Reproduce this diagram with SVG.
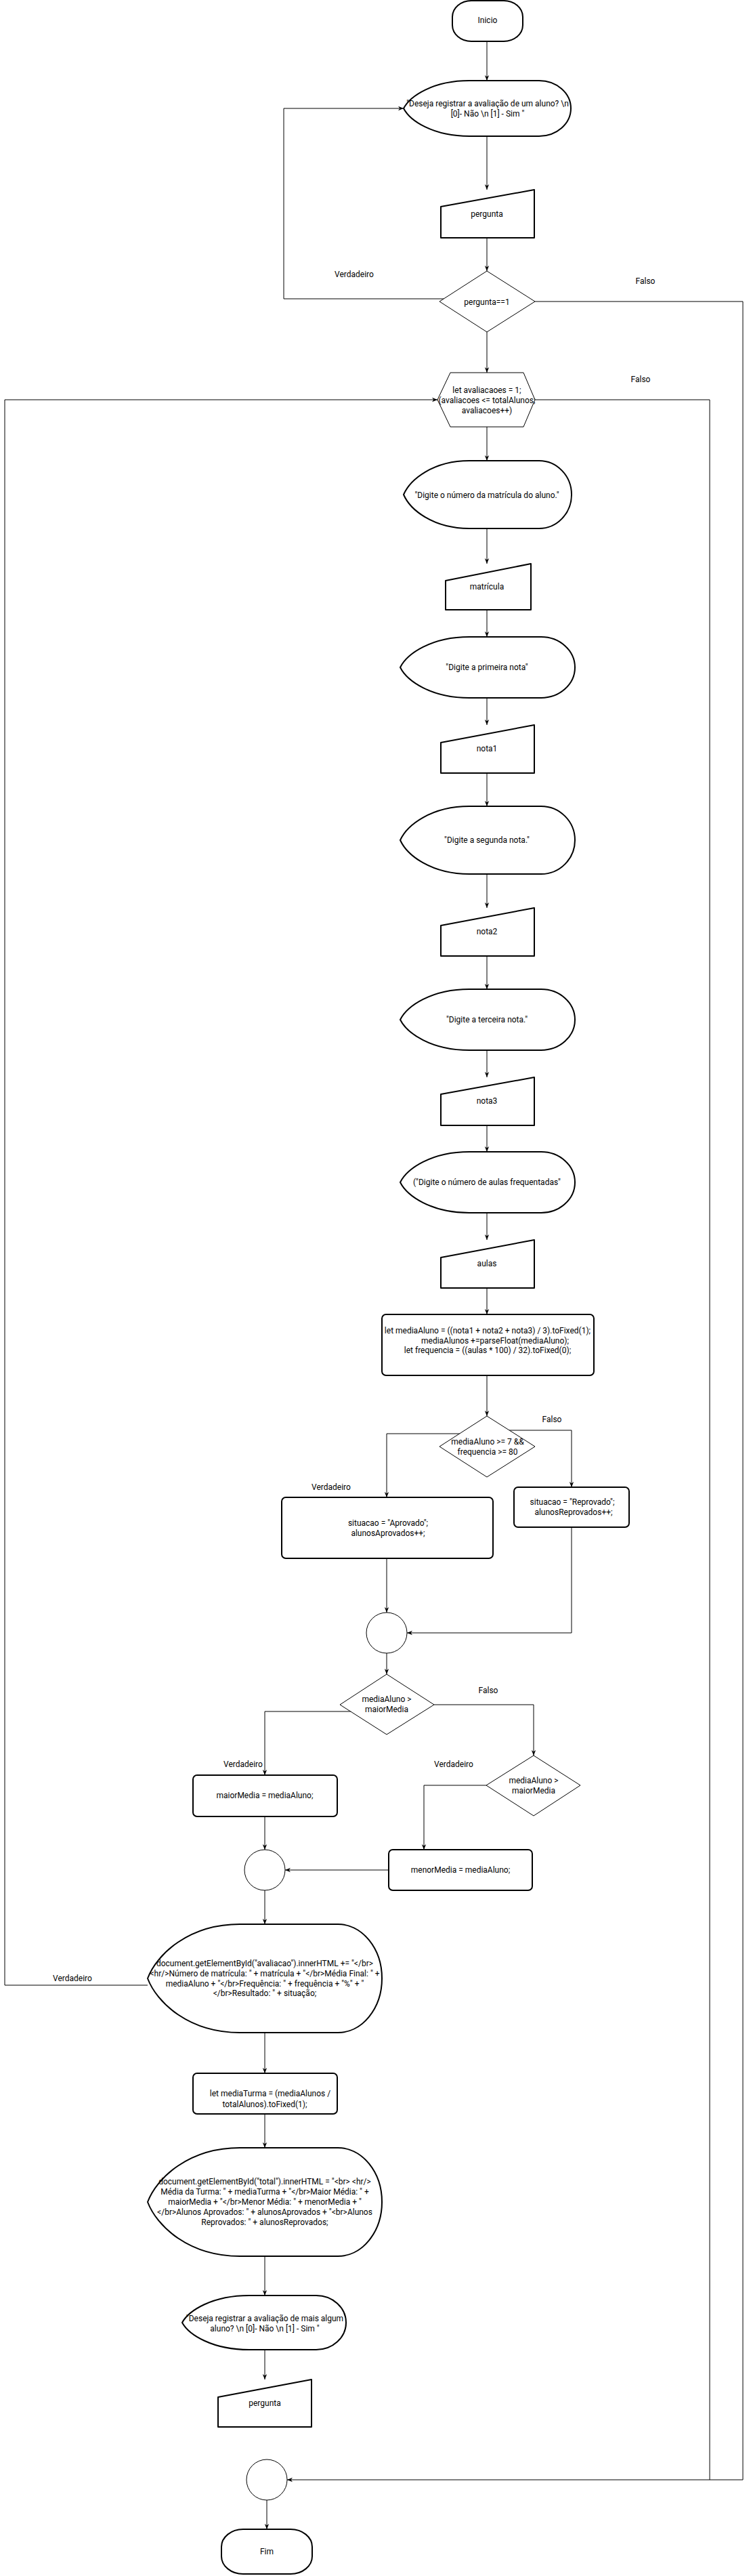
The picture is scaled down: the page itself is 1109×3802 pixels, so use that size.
<svg xmlns="http://www.w3.org/2000/svg" width="1109" height="3802" viewBox="0 0 1109 3802">
<style>
text{font-family:Roboto,"Liberation Sans",Arial,sans-serif;font-size:12px;fill:#000;text-anchor:middle}
.s{fill:#fff;stroke:#000;stroke-width:2;stroke-linejoin:round}
.t{fill:#fff;stroke:#000;stroke-width:1}
.c{fill:none;stroke:#000;stroke-width:1}
.a{marker-end:url(#arr)}
</style>
<defs>
<marker id="arr" viewBox="0 0 10 10" refX="10" refY="5" markerWidth="8" markerHeight="8" markerUnits="userSpaceOnUse" orient="auto"><path d="M0,1 L10,5 L0,9 L3,5 z" fill="#000"/></marker>
</defs>
<rect width="1109" height="3802" fill="#fff"/>
<g id="connectors">
<path class="c a" d="M719,61 V119"/>
<path class="c a" d="M719,201 V280"/>
<path class="c a" d="M719,351 V400"/>
<path class="c a" d="M656,441 H419 V160 H596"/>
<path class="c a" d="M790,445 H1097 V3660 H424"/>
<path class="c a" d="M719,490 V550"/>
<path class="c" d="M790,590 H1048 V3660"/>
<path class="c a" d="M719,630 V680"/>
<path class="c a" d="M719,780 V832"/>
<path class="c a" d="M719,900 V940"/>
<path class="c a" d="M719,1030 V1070"/>
<path class="c a" d="M719,1141 V1190"/>
<path class="c a" d="M719,1290 V1340"/>
<path class="c a" d="M719,1411 V1460"/>
<path class="c a" d="M719,1550 V1590"/>
<path class="c a" d="M719,1661 V1700"/>
<path class="c a" d="M719,1790 V1830"/>
<path class="c a" d="M719,1901 V1940"/>
<path class="c a" d="M719,2030 V2090"/>
<path class="c a" d="M752,2111 H844 V2195"/>
<path class="c a" d="M679,2116 H571 V2210"/>
<path class="c a" d="M571,2300 V2380"/>
<path class="c a" d="M844,2254 V2410 H601"/>
<path class="c a" d="M571,2440 V2471"/>
<path class="c a" d="M641,2516 H788 V2591"/>
<path class="c a" d="M518,2526 H391 V2620"/>
<path class="c a" d="M391,2681 V2730"/>
<path class="c a" d="M718,2635 H626 V2730"/>
<path class="c a" d="M574,2760 H421"/>
<path class="c a" d="M391,2790 V2840"/>
<path class="c a" d="M218,2930 H7 V590 H646"/>
<path class="c a" d="M391,3000 V3060"/>
<path class="c a" d="M391,3120 V3170"/>
<path class="c a" d="M391,3330 V3388"/>
<path class="c a" d="M391,3468 V3512"/>
<path class="c a" d="M394,3690 V3733"/>
<text x="523" y="409">Verdadeiro</text>
<text x="953" y="419">Falso</text>
<text x="946" y="564">Falso</text>
<text x="815" y="2099">Falso</text>
<text x="489" y="2199">Verdadeiro</text>
<text x="721" y="2499">Falso</text>
<text x="359" y="2608">Verdadeiro</text>
<text x="670" y="2608">Verdadeiro</text>
<text x="107" y="2924">Verdadeiro</text>
</g>
<g id="inicio"><rect class="s" x="668" y="1" width="104" height="60" rx="28" ry="24"/><text x="720" y="34">Inicio</text></g>
<g id="msg1"><path class="s" d="M693,119 L796,119 A47,41 0 0 1 843,160 A47,41 0 0 1 796,201 L693,201 C639.6,201 605.7,178.5 596,160 C605.7,141.5 639.6,119 693,119 Z"/><text x="720" y="157">"Deseja registrar a avaliação de um aluno? \n</text><text x="720" y="172">[0]- Não \n [1] - Sim "</text></g>
<g id="in-pergunta"><polygon class="s" points="651,305 789,280 789,351 651,351"/><text x="719" y="320">pergunta</text></g>
<g id="dec-pergunta"><polygon class="t" points="719,400 790,445 719,490 649,445"/><text x="719" y="450">pergunta==1</text></g>
<g id="loop"><polygon class="t" points="665,550 773,550 790,590 773,630 665,630 646,590"/><text x="719" y="580">let avaliacaoes = 1;</text><text x="719" y="595">(avaliacoes &lt;= totalAlunos;</text><text x="719" y="610">avaliacoes++)</text></g>
<g id="msg-matricula"><path class="s" d="M693,680 L796,680 A48,50 0 0 1 844,730 A48,50 0 0 1 796,780 L693,780 C639.6,780 605.7,752.5 596,730 C605.7,707.5 639.6,680 693,680 Z"/><text x="719" y="735">"Digite o número da matrícula do aluno."</text></g>
<g id="in-matricula"><polygon class="s" points="658,857 784,832 784,900 658,900"/><text x="719" y="870">matrícula</text></g>
<g id="msg-nota1"><path class="s" d="M693,940 L799,940 A50,45 0 0 1 849,985 A50,45 0 0 1 799,1030 L693,1030 C636.9,1030 601.2,1005.25 591,985 C601.2,964.75 636.9,940 693,940 Z"/><text x="719" y="989">"Digite a primeira nota"</text></g>
<g id="in-nota1"><polygon class="s" points="651,1096 789,1070 789,1141 651,1141"/><text x="719" y="1109">nota1</text></g>
<g id="msg-nota2"><path class="s" d="M693,1190 L799,1190 A50,50 0 0 1 849,1240 A50,50 0 0 1 799,1290 L693,1290 C636.9,1290 601.2,1262.5 591,1240 C601.2,1217.5 636.9,1190 693,1190 Z"/><text x="719" y="1244">"Digite a segunda nota."</text></g>
<g id="in-nota2"><polygon class="s" points="651,1366 789,1340 789,1411 651,1411"/><text x="719" y="1379">nota2</text></g>
<g id="msg-nota3"><path class="s" d="M693,1460 L799,1460 A50,45 0 0 1 849,1505 A50,45 0 0 1 799,1550 L693,1550 C636.9,1550 601.2,1525.25 591,1505 C601.2,1484.75 636.9,1460 693,1460 Z"/><text x="719" y="1509">"Digite a terceira nota."</text></g>
<g id="in-nota3"><polygon class="s" points="651,1615 789,1590 789,1661 651,1661"/><text x="719" y="1629">nota3</text></g>
<g id="msg-aulas"><path class="s" d="M693,1700 L799,1700 A50,45 0 0 1 849,1745 A50,45 0 0 1 799,1790 L693,1790 C636.9,1790 601.2,1765.25 591,1745 C601.2,1724.75 636.9,1700 693,1700 Z"/><text x="719" y="1749">("Digite o número de aulas frequentadas"</text></g>
<g id="in-aulas"><polygon class="s" points="651,1856 789,1830 789,1901 651,1901"/><text x="719" y="1869">aulas</text></g>
<g id="calc"><rect class="s" x="564" y="1940" width="313" height="90" rx="6"/><text x="720" y="1968">let mediaAluno = ((nota1 + nota2 + nota3) / 3).toFixed(1);</text><text x="731" y="1983">mediaAlunos +=parseFloat(mediaAluno);</text><text x="720" y="1997">let frequencia = ((aulas * 100) / 32).toFixed(0);</text></g>
<g id="dec-aprov"><polygon class="t" points="719,2090 790,2135 719,2180 649,2135"/><text x="720" y="2132">mediaAluno &gt;= 7 &amp;&amp;</text><text x="720" y="2147">frequencia &gt;= 80</text></g>
<g id="aprovado"><rect class="s" x="416" y="2210" width="312" height="90" rx="6"/><text x="573" y="2252">situacao = "Aprovado";</text><text x="573" y="2267">alunosAprovados++;</text></g>
<g id="reprovado"><rect class="s" x="759" y="2195" width="170" height="59" rx="6"/><text x="845" y="2221">situacao = "Reprovado";</text><text x="847" y="2236">alunosReprovados++;</text></g>
<g id="join1"><circle class="t" cx="571" cy="2410" r="30"/></g>
<g id="dec-maior"><polygon class="t" points="571,2471 641,2516 571,2560 502,2516"/><text x="571" y="2512">mediaAluno &gt;</text><text x="571" y="2527">maiorMedia</text></g>
<g id="maior"><rect class="s" x="285" y="2620" width="213" height="61" rx="6"/><text x="391" y="2654">maiorMedia = mediaAluno;</text></g>
<g id="dec-menor"><polygon class="t" points="788,2591 857,2635 788,2680 718,2635"/><text x="788" y="2632">mediaAluno &gt;</text><text x="788" y="2647">maiorMedia</text></g>
<g id="menor"><rect class="s" x="574" y="2730" width="212" height="60" rx="6"/><text x="680" y="2764">menorMedia = mediaAluno;</text></g>
<g id="join2"><circle class="t" cx="391" cy="2760" r="30"/></g>
<g id="out-avaliacao"><path class="s" d="M354,2840 L499,2840 A65,80 0 0 1 564,2920 A65,80 0 0 1 499,3000 L354,3000 C279.2,3000 231.6,2956 218,2920 C231.6,2884 279.2,2840 354,2840 Z"/><text x="391" y="2902">document.getElementById("avaliacao").innerHTML += "&lt;/br&gt;</text><text x="391" y="2917">&lt;hr/&gt;Número de matrícula: " + matrícula + "&lt;/br&gt;Média Final: " +</text><text x="391" y="2932">mediaAluno + "&lt;/br&gt;Frequência: " + frequência + "%" + "</text><text x="391" y="2946">&lt;/br&gt;Resultado: " + situação;</text></g>
<g id="media-turma"><rect class="s" x="285" y="3060" width="213" height="60" rx="6"/><text x="399" y="3094">let mediaTurma = (mediaAlunos /</text><text x="391" y="3110">totalAlunos).toFixed(1);</text></g>
<g id="out-total"><path class="s" d="M354,3170 L499,3170 A65,80 0 0 1 564,3250 A65,80 0 0 1 499,3330 L354,3330 C279.2,3330 231.6,3286 218,3250 C231.6,3214 279.2,3170 354,3170 Z"/><text x="391" y="3224">document.getElementById("total").innerHTML = "&lt;br&gt; &lt;hr/&gt;</text><text x="391" y="3239">Média da Turma: " + mediaTurma + "&lt;/br&gt;Maior Média: " +</text><text x="391" y="3254">maiorMedia + "&lt;/br&gt;Menor Média: " + menorMedia + "</text><text x="391" y="3269">&lt;/br&gt;Alunos Aprovados: " + alunosAprovados + "&lt;br&gt;Alunos</text><text x="391" y="3284">Reprovados: " + alunosReprovados;</text></g>
<g id="msg2"><path class="s" d="M368,3388 L467,3388 A44,40 0 0 1 511,3428 A44,40 0 0 1 467,3468 L368,3468 C313.5,3468 278.9,3446 269,3428 C278.9,3410 313.5,3388 368,3388 Z"/><text x="391" y="3426">"Deseja registrar a avaliação de mais algum</text><text x="391" y="3441">aluno? \n [0]- Não \n [1] - Sim "</text></g>
<g id="in-pergunta2"><polygon class="s" points="322,3538 460,3512 460,3582 322,3582"/><text x="391" y="3551">pergunta</text></g>
<g id="join3"><circle class="t" cx="394" cy="3660" r="30"/></g>
<g id="fim"><rect class="s" x="327" y="3733" width="134" height="66" rx="32" ry="26"/><text x="394" y="3770">Fim</text></g>
</svg>
